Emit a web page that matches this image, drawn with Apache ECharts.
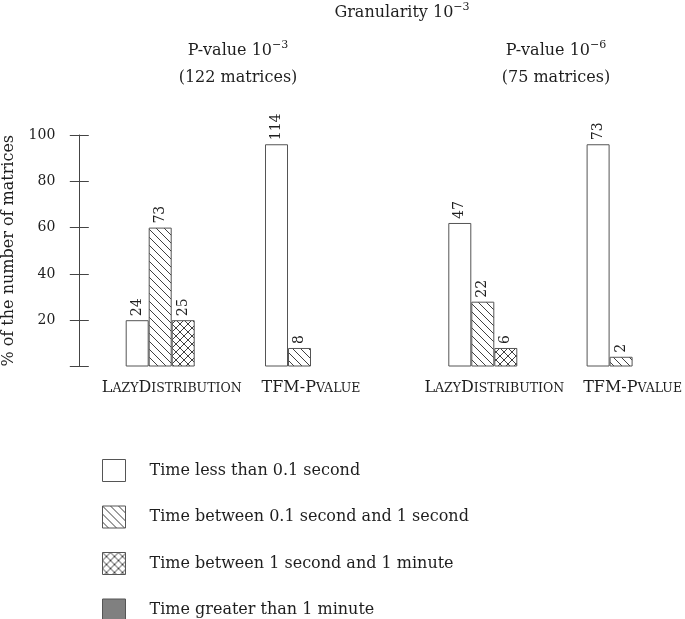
<!DOCTYPE html>
<html>
<head>
<meta charset="utf-8">
<script src="https://cdn.jsdelivr.net/npm/echarts@6/dist/echarts.min.js"></script>
<style>html,body{margin:0;padding:0;background:#fff}#c{width:685px;height:619px}</style>
</head>
<body>
<div id="c"></div>
<script>
// ---- data ----
const categories = ['LazyDistribution', 'TFM-Pvalue'];
const seriesNames = ['Time less than 0.1 second', 'Time between 0.1 second and 1 second', 'Time between 1 second and 1 minute', 'Time greater than 1 minute'];
const yTicks = [0, 20, 40, 60, 80, 100];
const mainTitle = ['Granularity 10', '−3'];
const panelTitles = [['P-value 10', '−3', '(122 matrices)'], ['P-value 10', '−6', '(75 matrices)']];
const yName = '% of the number of matrices';

// P-value 1e-3: percentages (bar heights) and counts (labels)
const p3Fast = [20, 96];
const p3Mid = [60, 8];
const p3Slow = [20, null];
const p3Over = [null, null];
const p3FastN = [24, 114];
const p3MidN = [73, 8];
const p3SlowN = [25, null];
const p3OverN = [null, null];

// P-value 1e-6
const p6Fast = [62, 96];
const p6Mid = [28, 4.2];
const p6Slow = [8, null];
const p6Over = [null, null];
const p6FastN = [47, 73];
const p6MidN = [22, 2];
const p6SlowN = [6, null];
const p6OverN = [null, null];

// ---- styling ----
const FONT = 'DejaVu Serif';
const TXT = '#1e1e1e';
const EDGE = '#555';

function pattern(cross) {
  const c = document.createElement('canvas');
  c.width = 8; c.height = 8;
  const g = c.getContext('2d');
  g.fillStyle = '#fff'; g.fillRect(0, 0, 8, 8);
  g.strokeStyle = '#2a2a2a'; g.lineWidth = 0.9;
  g.beginPath();
  g.moveTo(-2, -2); g.lineTo(10, 10);
  if (cross) { g.moveTo(10, -2); g.lineTo(-2, 10); }
  g.stroke();
  return { image: c, repeat: 'repeat' };
}
const fills = ['#ffffff', pattern(false), pattern(true), '#808080'];

function smallCaps(name) {
  // emulate LaTeX \textsc: capitals full size, lowercase as reduced capitals
  let out = '';
  let buf = '', bufBig = null;
  const flush = () => { if (buf) out += '{' + (bufBig ? 'b' : 's') + '|' + buf + '}'; buf = ''; };
  for (const ch of name) {
    const big = !(ch >= 'a' && ch <= 'z');
    if (bufBig !== null && big !== bufBig) flush();
    bufBig = big;
    buf += big ? ch : ch.toUpperCase();
  }
  flush();
  return out;
}

const groups = [
  { vals: [p3Fast, p3Mid, p3Slow, p3Over], cnt: [p3FastN, p3MidN, p3SlowN, p3OverN] },
  { vals: [p6Fast, p6Mid, p6Slow, p6Over], cnt: [p6FastN, p6MidN, p6SlowN, p6OverN] }
];

const series = [];
groups.forEach((grp, gi) => {
  grp.vals.forEach((vals, si) => {
    const counts = grp.cnt[si];
    series.push({
      type: 'bar',
      name: seriesNames[si],
      xAxisIndex: gi,
      yAxisIndex: gi === 0 ? 0 : 2,
      data: vals,
      barWidth: 23,
      barGap: '0%',
      clip: false,
      itemStyle: { color: fills[si], borderColor: EDGE, borderWidth: 1 },
      label: {
        show: true,
        position: 'top',
        rotate: 90,
        align: 'left',
        verticalAlign: 'middle',
        distance: 4,
        fontFamily: FONT,
        fontSize: 14,
        color: TXT,
        formatter: p => counts[p.dataIndex] == null ? '' : String(counts[p.dataIndex])
      },
      emphasis: { disabled: true },
      animation: false
    });
  });
});

const xLabel = {
  fontFamily: FONT,
  color: TXT,
  margin: 11,
  interval: 0,
  formatter: v => smallCaps(v),
  rich: {
    b: { fontFamily: FONT, fontSize: 16, color: TXT, lineHeight: 18, verticalAlign: 'bottom' },
    s: { fontFamily: FONT, fontSize: 12.5, color: TXT, lineHeight: 18, verticalAlign: 'bottom' }
  }
};

function supText(x, y, base, sup) {
  return {
    type: 'text', x: x, y: y,
    style: {
      text: base + '{sup|' + sup + '}',
      fontFamily: FONT, fontSize: 16, fill: TXT,
      align: 'center', verticalAlign: 'middle',
      rich: { sup: { fontFamily: FONT, fontSize: 11, fill: TXT, verticalAlign: 'top', lineHeight: 22 } }
    }
  };
}
function plainText(x, y, t) {
  return { type: 'text', x: x, y: y, style: { text: t, fontFamily: FONT, fontSize: 16, fill: TXT, align: 'center', verticalAlign: 'middle' } };
}

const option = {
  animation: false,
  // category centres sit on the grid edges (boundaryGap false)
  grid: [
    { left: 171.7, top: 135, width: 139.3, height: 231.5 },
    { left: 494.3, top: 135, width: 139, height: 231.5 }
  ],
  xAxis: [0, 1].map(i => ({
    type: 'category',
    gridIndex: i,
    data: categories,
    boundaryGap: false,
    axisLine: { show: false },
    axisTick: { show: false },
    axisLabel: xLabel
  })),
  yAxis: [
    {
      type: 'value', gridIndex: 0, position: 'left', min: 0, max: 100, interval: 20, offset: 92.4,
      axisLine: { show: true, lineStyle: { color: '#444', width: 1 } },
      axisTick: { show: true, length: 9.5, lineStyle: { color: '#444' } },
      splitLine: { show: false },
      axisLabel: { fontFamily: FONT, fontSize: 14, color: TXT, margin: 24,
        formatter: v => (v === yTicks[0] ? '' : String(v)) },
      name: yName, nameLocation: 'middle', nameGap: 62,
      nameTextStyle: { fontFamily: FONT, fontSize: 16, color: TXT }
    },
    {
      type: 'value', gridIndex: 0, position: 'left', min: 0, max: 100, interval: 20, offset: 92.4,
      axisLine: { show: false },
      axisTick: { show: true, inside: true, length: 9.5, lineStyle: { color: '#444' } },
      splitLine: { show: false },
      axisLabel: { show: false }
    },
    {
      type: 'value', gridIndex: 1, min: 0, max: 100, interval: 20, show: false,
      splitLine: { show: false }
    }
  ],
  legend: {
    orient: 'vertical',
    left: 102, top: 459,
    width: 500, height: 175,
    padding: 0,
    itemWidth: 23, itemHeight: 22, itemGap: 23.5,
    icon: 'rect',
    data: seriesNames,
    selectedMode: false,
    itemStyle: { borderColor: EDGE, borderWidth: 1 },
    textStyle: { fontFamily: FONT, fontSize: 16, color: TXT, padding: [0, 0, 0, 19] }
  },
  graphic: [
    supText(402, 13, mainTitle[0], mainTitle[1]),
    supText(238, 51, panelTitles[0][0], panelTitles[0][1]),
    plainText(238, 78, panelTitles[0][2]),
    supText(556, 51, panelTitles[1][0], panelTitles[1][1]),
    plainText(556, 78, panelTitles[1][2])
  ],
  series: series
};

const chart = echarts.init(document.getElementById('c'), null, { renderer: 'canvas' });
chart.setOption(option);
</script>
</body>
</html>
